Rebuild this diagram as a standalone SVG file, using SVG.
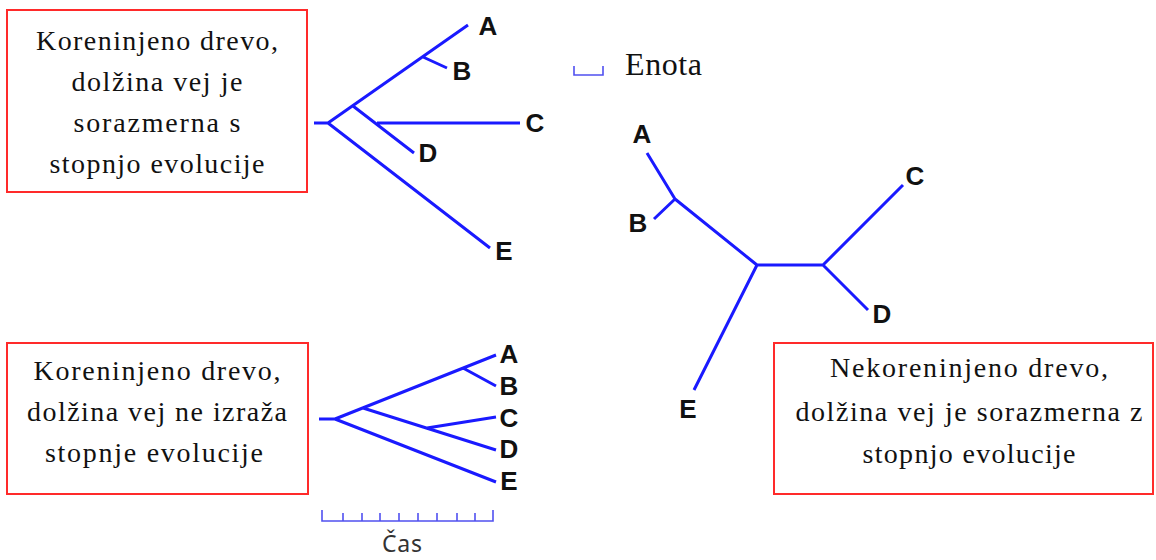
<svg xmlns="http://www.w3.org/2000/svg" width="1156" height="560" viewBox="0 0 1156 560">
  <style>
    .box { fill: #ffffff; stroke: #ff2a2a; stroke-width: 2; }
    .caption { font-family: "Liberation Serif", "Times New Roman", serif; font-size: 28px; fill: #111111; text-anchor: middle; }
    .leaf { font-family: "Liberation Sans", Arial, sans-serif; font-weight: bold; font-size: 26px; fill: #111111; text-anchor: middle; }
    .branch { fill: none; stroke: #1a1aff; stroke-width: 3; stroke-linecap: butt; stroke-linejoin: round; }
    .ruler { fill: none; stroke: #5050f0; stroke-width: 1.6; }
  </style>
  <rect width="1156" height="560" fill="#ffffff"/>

  <!-- Caption boxes -->
  <g id="box-rooted-scaled">
    <rect class="box" x="7" y="10" width="300" height="182"/>
    <text class="caption" x="157" y="50" textLength="242">Koreninjeno drevo,</text>
    <text class="caption" x="157" y="91" textLength="171">dolžina vej je</text>
    <text class="caption" x="157" y="132" textLength="167">sorazmerna s</text>
    <text class="caption" x="157" y="173" textLength="215">stopnjo evolucije</text>
  </g>
  <g id="box-rooted-unscaled">
    <rect class="box" x="7" y="343" width="301" height="151"/>
    <text class="caption" x="157" y="380" textLength="247">Koreninjeno drevo,</text>
    <text class="caption" x="157" y="421" textLength="260">dolžina vej ne izraža</text>
    <text class="caption" x="154" y="462" textLength="218">stopnje evolucije</text>
  </g>
  <g id="box-unrooted">
    <rect class="box" x="774" y="343" width="379" height="151"/>
    <text class="caption" x="969" y="377" textLength="278">Nekoreninjeno drevo,</text>
    <text class="caption" x="969" y="421" textLength="347">dolžina vej je sorazmerna z</text>
    <text class="caption" x="969" y="463" textLength="213">stopnjo evolucije</text>
  </g>

  <!-- Branch-length unit legend -->
  <g id="legend-unit">
    <path class="ruler" d="M574,66 V75 H603 V66"/>
    <text x="625" y="75" font-family="Liberation Serif, Times New Roman, serif" font-size="32" fill="#111111" textLength="77">Enota</text>
  </g>

  <!-- Time axis under the cladogram -->
  <g id="time-axis">
    <path class="ruler" d="M322,510 V521 H493 V510 M343,513 V521 M362,513 V521 M380,513 V521 M399,513 V521 M418,513 V521 M437,513 V521 M457,513 V521 M475,513 V521"/>
    <text x="402" y="552" font-family="Noto Sans, Open Sans, sans-serif" font-size="23" fill="#333333" text-anchor="middle" textLength="40">Čas</text>
  </g>

  <!-- Tree branches -->
  <g id="connectors">
    <!-- rooted tree, branch lengths scaled -->
    <path class="branch" d="M314,123 H328 L468,25 M423,57 L447,68 M353,106 L414,153 M377,123 H520 M328,123 L490,248"/>
    <!-- rooted tree, cladogram -->
    <path class="branch" d="M319,419 H335 L496,355 M463,368 L496,386 M363,408 L496,450 M427,428 L496,417 M335,419 L496,482"/>
    <!-- unrooted tree -->
    <path class="branch" d="M647,153 L675,199 L757,265 H823 L903,185 M675,199 L654,219 M823,265 L868,310 M757,265 L694,390"/>
  </g>

  <!-- Leaf labels: rooted, scaled -->
  <g id="r1-A"><text class="leaf" x="488" y="35">A</text></g>
  <g id="r1-B"><text class="leaf" x="462" y="80">B</text></g>
  <g id="r1-C"><text class="leaf" x="535" y="132">C</text></g>
  <g id="r1-D"><text class="leaf" x="428" y="162">D</text></g>
  <g id="r1-E"><text class="leaf" x="504" y="260">E</text></g>

  <!-- Leaf labels: cladogram -->
  <g id="r2-A"><text class="leaf" x="509" y="363">A</text></g>
  <g id="r2-B"><text class="leaf" x="509" y="395">B</text></g>
  <g id="r2-C"><text class="leaf" x="509" y="427">C</text></g>
  <g id="r2-D"><text class="leaf" x="509" y="458">D</text></g>
  <g id="r2-E"><text class="leaf" x="509" y="490">E</text></g>

  <!-- Leaf labels: unrooted -->
  <g id="u-A"><text class="leaf" x="642" y="143">A</text></g>
  <g id="u-B"><text class="leaf" x="638" y="232">B</text></g>
  <g id="u-C"><text class="leaf" x="915" y="185">C</text></g>
  <g id="u-D"><text class="leaf" x="882" y="323">D</text></g>
  <g id="u-E"><text class="leaf" x="688" y="418">E</text></g>
</svg>
